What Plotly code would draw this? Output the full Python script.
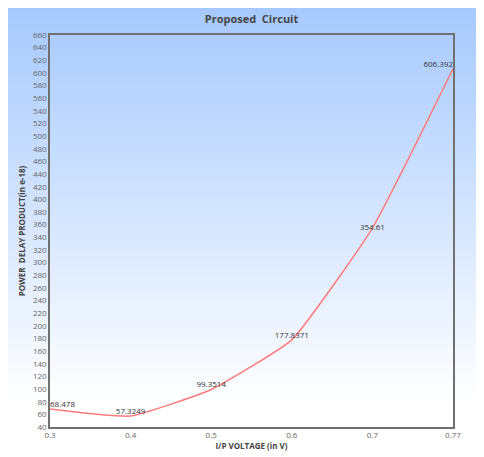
import plotly.graph_objects as go

voltages = ["0.3", "0.4", "0.5", "0.6", "0.7", "0.77"]
pdp = [68.478, 57.3249, 99.3514, 177.8371, 354.61, 606.392]
labels = ["68.478", "57.3249", "99.3514", "177.8371", "354.61", "606.392"]
label_pos = ["top right", "top center", "top center", "top center", "middle center", "top left"]

# page has an 8px body margin, so the figure is drawn 8px in from top-left
W, H = 476, 449
L, R, T, B = 42, 31, 27, 30
pw, ph = W - L - R, H - T - B

fig = go.Figure()
fig.add_trace(go.Scatter(
    x=voltages, y=pdp, mode="lines+text",
    text=labels, textposition=label_pos,
    textfont=dict(size=8, color="#333333", family="Open Sans"),
    line=dict(color="#ff7b7b", width=1.5, shape="spline", smoothing=0.4),
    cliponaxis=False, showlegend=False,
))

# background gradient bands (style only)
top_px, bot_px = 0, H
n = 225
c0 = (166, 201, 253)
c1 = (255, 255, 255)
shapes = []
for i in range(n):
    ya = top_px + (bot_px - top_px) * i / n
    yb = top_px + (bot_px - top_px) * (i + 1) / n + 0.5
    t = min(1.0, (i + 0.5) / n / 0.88)
    col = tuple(round(c0[k] + (c1[k] - c0[k]) * t) for k in range(3))
    shapes.append(dict(
        type="rect", layer="below", xref="paper", yref="paper",
        x0=(-2 - L) / pw, x1=(W + 2 - L) / pw,
        y0=(H - B - yb) / ph, y1=(H - B - ya) / ph,
        fillcolor="rgb(%d,%d,%d)" % col, line=dict(width=0),
    ))

fig.update_layout(
    width=W, height=H,
    margin=dict(l=L, r=R, t=T, b=B, autoexpand=False),
    paper_bgcolor="white", plot_bgcolor="rgba(0,0,0,0)",
    shapes=shapes,
    font=dict(family="Open Sans", size=8, color="#555555"),
    title=dict(text="<b>Proposed  Circuit</b>", x=(L + pw / 2) / W, xanchor="center",
               y=1 - 11 / H, yanchor="middle",
               font=dict(size=11, color="#444444", family="Open Sans")),
    xaxis=dict(type="category", range=[0, 5], showgrid=False, ticks="",
               automargin=False,
               showline=True, linecolor="#707070", linewidth=1.5, mirror=True,
               tickfont=dict(size=8, color="#666666"),
               title=dict(text="<b>I/P VOLTAGE (in V)</b>", standoff=2,
                          font=dict(size=8, color="#444444"))),
    yaxis=dict(range=[40, 660], dtick=20, tick0=40, showgrid=False, ticks="",
               zeroline=False, automargin=False,
               showline=True, linecolor="#707070", linewidth=1.5, mirror=True,
               tickfont=dict(size=8, color="#666666"),
               title=dict(text="<b>POWER  DELAY PRODUCT(in e-18)</b>", standoff=6,
                          font=dict(size=8, color="#444444"))),
)

fig.write_html("out.html")
